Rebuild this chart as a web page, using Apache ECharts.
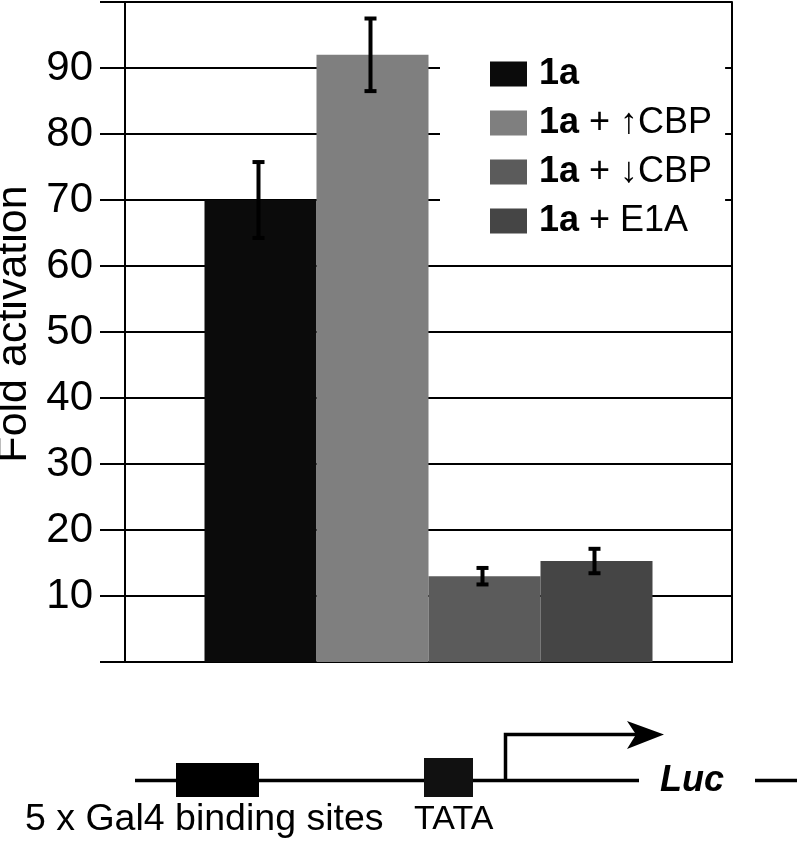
<!DOCTYPE html>
<html>
<head>
<meta charset="utf-8">
<script src="https://cdn.jsdelivr.net/npm/echarts@6/dist/echarts.min.js"></script>
<style>
  html, body { margin: 0; padding: 0; background: #fff; }
  #chart { width: 797px; height: 841px; }
</style>
</head>
<body>
<div id="chart"></div>
<script>
// values
var seriesNames = ['1a', '1a + \u2191CBP', '1a + \u2193CBP', '1a + E1A'];
var foldValues = [70, 92, 13, 15.3];
var errValues = [5.75, 5.5, 1.25, 1.85];
var barColors = ['#0b0b0b', '#7f7f7f', '#5b5b5b', '#454545'];
var categories = [''];

var FONT = 'Liberation Sans, Arial, Helvetica, sans-serif';
var BAR_W = 112;

var series = [];
for (var i = 0; i < seriesNames.length; i++) {
    var d = categories.map(function () { return foldValues[i]; });
    series.push({
        name: seriesNames[i],
        type: 'bar',
        barWidth: BAR_W,
        barGap: '0%',
        itemStyle: {color: barColors[i]},
        data: d,
        z: 2
    });
}

// error bars, one per bar
series.push({
    name: 'err',
    type: 'custom',
    z: 4,
    encode: {x: 0, y: 1},
    data: foldValues.map(function (v, i) { return [0, v, errValues[i], i]; }),
    renderItem: function (params, api) {
        var idx = api.value(3);
        var mean = api.value(1), err = api.value(2);
        var n = foldValues.length;
        var x = api.coord([api.value(0), mean])[0] + (idx - (n - 1) / 2) * BAR_W - 2;
        var yTop = api.coord([api.value(0), mean + err])[1];
        var yBot = api.coord([api.value(0), mean - err])[1];
        var st = {stroke: '#000', lineWidth: 4};
        return {
            type: 'group',
            children: [
                {type: 'line', shape: {x1: x, y1: yTop, x2: x, y2: yBot}, style: st},
                {type: 'line', shape: {x1: x - 6, y1: yTop, x2: x + 6, y2: yTop}, style: st},
                {type: 'line', shape: {x1: x - 6, y1: yBot, x2: x + 6, y2: yBot}, style: st}
            ]
        };
    }
});

function legendText(name) {
    var rest = name.slice(2);
    return rest ? '{b|1a}{r|' + rest + '}' : '{b|1a}';
}

var option = {
    animation: false,
    backgroundColor: '#fff',
    textStyle: {fontFamily: FONT},
    grid: {left: 125, right: 65, top: 2, bottom: 179, containLabel: false, outerBoundsMode: 'none'},
    legend: {
        data: seriesNames,
        orient: 'vertical',
        left: 440,
        top: 44,
        padding: [12, 13, 12, 50],
        backgroundColor: '#fff',
        itemWidth: 37,
        itemHeight: 25,
        itemGap: 13,
        icon: 'rect',
        selectedMode: false,
        formatter: legendText,
        textStyle: {
            fontFamily: FONT,
            fontSize: 36,
            color: '#000',
            lineHeight: 35,
            rich: {
                b: {fontFamily: FONT, fontWeight: 'bold', fontSize: 36, lineHeight: 35, color: '#000', padding: [0, 0, 0, 7]},
                r: {fontFamily: FONT, fontSize: 36, lineHeight: 35, color: '#000'}
            }
        }
    },
    xAxis: {
        type: 'category',
        data: categories,
        axisLine: {show: true, lineStyle: {color: '#000', width: 2}},
        axisTick: {show: false},
        axisLabel: {show: false}
    },
    yAxis: [{
        type: 'value',
        position: 'left',
        min: 0,
        max: 100,
        interval: 10,
        name: 'Fold activation',
        nameLocation: 'middle',
        nameRotate: 90,
        nameGap: 85,
        nameTextStyle: {fontFamily: FONT, fontSize: 43, color: '#000', padding: [0, 0, 0, 16]},
        axisLine: {show: true, lineStyle: {color: '#000', width: 2}},
        axisTick: {show: true, length: 25, lineStyle: {color: '#000', width: 2}},
        splitLine: {show: true, lineStyle: {color: '#000', width: 2}},
        axisLabel: {
            fontFamily: FONT,
            fontSize: 42,
            color: '#000',
            margin: 32,
            formatter: function (v) { return (v === 0 || v === 100) ? '' : String(v); }
        }
    }, {
        type: 'value',
        position: 'right',
        min: 0,
        max: 100,
        interval: 10,
        axisLine: {show: true, lineStyle: {color: '#000', width: 2}},
        axisTick: {show: true, inside: true, length: 4, lineStyle: {color: '#000', width: 2}},
        splitLine: {show: false},
        axisLabel: {show: false}
    }],
    series: series,
    graphic: [
        // reporter construct sketch under the chart
        {type: 'line', shape: {x1: 135, y1: 780.5, x2: 639, y2: 780.5}, style: {stroke: '#000', lineWidth: 3.5}},
        {type: 'line', shape: {x1: 755, y1: 780.5, x2: 797, y2: 780.5}, style: {stroke: '#000', lineWidth: 3.5}},
        {type: 'rect', shape: {x: 176, y: 763, width: 83, height: 34}, style: {fill: '#000'}},
        {type: 'rect', shape: {x: 424, y: 758, width: 49, height: 39}, style: {fill: '#111'}},
        {type: 'polyline', shape: {points: [[505.5, 780], [505.5, 734.5], [636, 734.5]]}, style: {stroke: '#000', lineWidth: 3.5, fill: null}},
        {type: 'polygon', shape: {points: [[627, 721], [664, 734.5], [627, 749], [636, 734.5]]}, style: {fill: '#000'}},
        {type: 'text', x: 660, y: 781, style: {text: 'Luc', font: 'italic bold 36px ' + FONT, fill: '#000', verticalAlign: 'middle'}},
        {type: 'text', x: 25, y: 820, style: {text: '5 x Gal4 binding sites', font: '37.5px ' + FONT, fill: '#000', verticalAlign: 'middle'}},
        {type: 'text', x: 414, y: 820, style: {text: 'TATA', font: '34px ' + FONT, fill: '#000', verticalAlign: 'middle'}}
    ]
};

var myChart = echarts.init(document.getElementById('chart'));
myChart.setOption(option);
</script>
</body>
</html>
